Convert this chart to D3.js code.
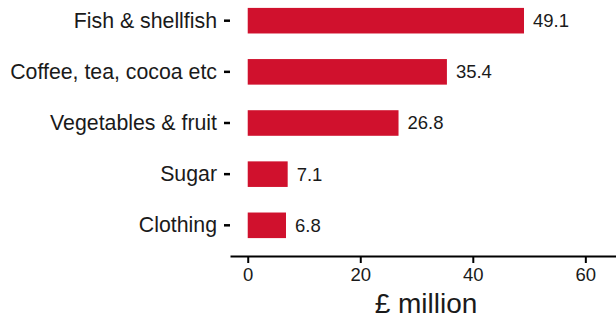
<!DOCTYPE html>
<html>
  <head>
    <style>
      body {
        margin: 0;
        font-family: "Liberation Sans", Arial, sans-serif;
        background: white;
      }
    </style>
  </head>
  <body>
    <div id="main-viz"></div>

    <script src="https://d3js.org/d3.v7.min.js"></script>
    <script>

      var categories = ["Fish & shellfish", "Coffee, tea, cocoa etc", "Vegetables & fruit", "Sugar", "Clothing"];
      var values = [49.1, 35.4, 26.8, 7.1, 6.8];
      var xTicks = [0, 20, 40, 60];
      var xTitle = "£ million";

      var data = categories.map(function (c, i) {
        return {name: c, value: values[i]};
      });

      var margin = {top: 0, right: 0, bottom: 63, left: 230},
        width = 616 - margin.left - margin.right,
        height = 319 - margin.top - margin.bottom;

      var svg = d3.select("#main-viz")
        .append("svg")
          .attr("width", width + margin.left + margin.right)
          .attr("height", height + margin.top + margin.bottom)
        .append("g")
          .attr("transform", "translate(" + margin.left + "," + margin.top + ")");

      // x runs a bit below zero, like ggplot's expansion
      var x = d3.scaleLinear()
        .domain([-3.15, 65.45])
        .range([0, width]);

      var y = d3.scaleBand()
        .domain(categories)
        .range([-10, height])
        .paddingInner(0.5)
        .paddingOuter(0.35);

      // bars
      svg.append("g")
        .selectAll("rect")
        .data(data)
        .enter()
        .append("rect")
          .attr("x", x(0))
          .attr("y", function (d) { return y(d.name); })
          .attr("width", function (d) { return x(d.value) - x(0); })
          .attr("height", y.bandwidth())
          .style("fill", "#D0112D");

      // value labels
      svg.append("g")
        .selectAll("text")
        .data(data)
        .enter()
        .append("text")
          .attr("x", function (d) { return x(d.value) + 9; })
          .attr("y", function (d) { return y(d.name) + y.bandwidth() / 2; })
          .attr("dy", "0.35em")
          .style("font-size", "18.5px")
          .style("fill", "#1a1a1a")
          .text(function (d) { return d.value.toFixed(1); });

      // x axis
      var xAxis = svg.append("g")
        .attr("transform", "translate(0," + height + ")")
        .call(d3.axisBottom(x).tickValues(xTicks).tickSize(7).tickSizeOuter(0).tickPadding(5));
      xAxis.select(".domain")
        .attr("stroke", "black")
        .attr("stroke-width", 2.2);
      xAxis.selectAll(".tick line")
        .attr("stroke", "black")
        .attr("stroke-width", 2);
      xAxis.selectAll(".tick text")
        .style("font-size", "18.5px")
        .style("font-family", "Liberation Sans, Arial, sans-serif")
        .style("fill", "#1a1a1a");

      // y axis: ticks and labels only
      var yAxis = svg.append("g")
        .call(d3.axisLeft(y).tickSize(6).tickPadding(7));
      yAxis.select(".domain").remove();
      yAxis.selectAll(".tick line")
        .attr("stroke", "black")
        .attr("stroke-width", 2.5);
      yAxis.selectAll(".tick text")
        .style("font-size", "21.3px")
        .style("font-family", "Liberation Sans, Arial, sans-serif")
        .style("fill", "#1a1a1a");

      svg.append("text")
        .attr("x", width / 2 + 3)
        .attr("y", height + 57)
        .style("text-anchor", "middle")
        .style("font-size", "28px")
        .style("fill", "#1a1a1a")
        .text(xTitle);

    </script>
  </body>
</html>
